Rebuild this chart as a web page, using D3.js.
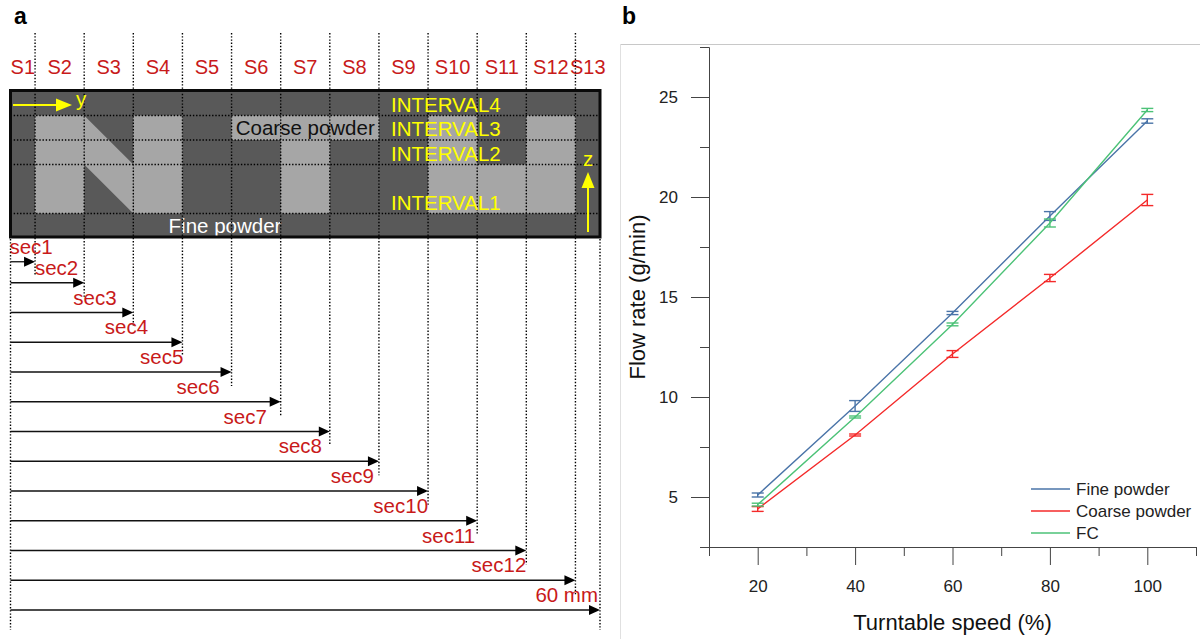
<!DOCTYPE html>
<html>
<head>
<meta charset="utf-8">
<script src="https://cdn.jsdelivr.net/npm/d3@7"></script>
<style>
  html, body { margin: 0; padding: 0; background: #fff; }
  svg { display: block; font-family: "Liberation Sans", Arial, sans-serif; }
</style>
</head>
<body>
<svg id="fig" width="1200" height="639"></svg>
<script>
// ---------- Panel a: section layout of the powder bed ----------
const sectionNames = ["S1","S2","S3","S4","S5","S6","S7","S8","S9","S10","S11","S12","S13"];
// section edges along y (mm)
const sectionEdges = [0, 2.5, 7.5, 12.5, 17.5, 22.5, 27.5, 32.5, 37.5, 42.5, 47.5, 52.5, 57.5, 60];
// cumulative measuring lengths
const secLabels = ["sec1","sec2","sec3","sec4","sec5","sec6","sec7","sec8","sec9","sec10","sec11","sec12","60 mm"];
const secEnds = [2.5, 7.5, 12.5, 17.5, 22.5, 27.5, 32.5, 37.5, 42.5, 47.5, 52.5, 57.5, 60];
// height intervals (z, in layer units)
const intervalNames = ["INTERVAL1","INTERVAL2","INTERVAL3","INTERVAL4"];
const intervalLower = [1, 3, 4, 5];
const zTop = 6;
// light (coarse) regions: z range at the left and right edge of a section
const coarseRegions = [
  { s: "S2",  zl: [1, 5], zr: [1, 5] },
  { s: "S3",  zl: [3, 5], zr: [1, 3] },
  { s: "S4",  zl: [1, 5], zr: [1, 5] },
  { s: "S6",  zl: [4, 5], zr: [4, 5] },
  { s: "S7",  zl: [1, 5], zr: [1, 5] },
  { s: "S8",  zl: [4, 5], zr: [4, 5] },
  { s: "S10", zl: [1, 5], zr: [1, 5] },
  { s: "S11", zl: [1, 3], zr: [1, 3] },
  { s: "S12", zl: [1, 5], zr: [1, 5] }
];

// ---------- Panel b: flow rate vs turntable speed ----------
const speeds = [20, 40, 60, 80, 100];
const seriesNames = ["Fine powder", "Coarse powder", "FC"];
const fineMean   = [5.10, 9.55, 14.20, 19.05, 23.80];
const fineErr    = [0.10, 0.27, 0.08, 0.22, 0.11];
const coarseMean = [4.40, 8.10, 12.15, 15.95, 19.85];
const coarseErr  = [0.12, 0.05, 0.17, 0.18, 0.28];
const fcMean     = [4.62, 9.00, 13.63, 18.70, 24.35];
const fcErr      = [0.07, 0.05, 0.07, 0.20, 0.08];
const xMajorTicks = [20, 40, 60, 80, 100];
const xMinorTicks = [10, 30, 50, 70, 90, 110];
const yMajorTicks = [5, 10, 15, 20, 25];
const yMinorTicks = [2.5, 7.5, 12.5, 17.5, 22.5, 27.5];

const svg = d3.select("#fig");
const RED = "#c81a1a";
const YELLOW = "#ffff00";
const FONT_A = 20.5;

// ===== Panel a =====
const gA = svg.append("g");
const mx = d3.scaleLinear().domain([0, 60]).range([10.5, 600]);
const zy = d3.scaleLinear().domain([0, zTop]).range([238, 91]);
const arrowY = d3.scalePoint().domain(d3.range(secLabels.length)).range([253, 610]);
const rowY = i => i === 0 ? arrowY(1) - 21 : arrowY(i);

gA.append("text").attr("x", 14).attr("y", 24)
  .attr("font-size", 23).attr("font-weight", "bold").text("a");

// section names
gA.selectAll("text.sname").data(sectionNames).join("text")
  .attr("class", "sname")
  .attr("x", (d, i) => mx((sectionEdges[i] + sectionEdges[i + 1]) / 2))
  .attr("y", 74).attr("text-anchor", "middle")
  .attr("font-size", 20).attr("fill", RED).text(d => d);

// bed background
gA.append("rect").attr("x", mx(0)).attr("y", zy(zTop))
  .attr("width", mx(60) - mx(0)).attr("height", zy(0) - zy(zTop))
  .attr("fill", "#595959");

// coarse regions
gA.selectAll("polygon.coarse").data(coarseRegions).join("polygon")
  .attr("class", "coarse")
  .attr("fill", "#a6a6a6")
  .attr("points", d => {
    const i = sectionNames.indexOf(d.s);
    const x0 = mx(sectionEdges[i]), x1 = mx(sectionEdges[i + 1]);
    return [[x0, zy(d.zl[1])], [x1, zy(d.zr[1])], [x1, zy(d.zr[0])], [x0, zy(d.zl[0])]]
      .map(p => p.join(",")).join(" ");
  });

gA.append("text").attr("x", mx(30)).attr("y", zy(4.5) + 7)
  .attr("text-anchor", "middle").attr("font-size", FONT_A).attr("fill", "#111")
  .text("Coarse powder");
gA.append("text").attr("x", 225).attr("y", zy(0.5) + 7.5)
  .attr("text-anchor", "middle").attr("font-size", FONT_A).attr("fill", "#fff")
  .text("Fine powder");

const dotted = sel => sel.attr("stroke", "#000").attr("stroke-width", 1.4)
  .attr("stroke-dasharray", "1.4,1.8").attr("fill", "none");

// interval boundaries
gA.selectAll("line.zb").data(intervalLower).join("line")
  .attr("class", "zb")
  .attr("x1", mx(0)).attr("x2", mx(60))
  .attr("y1", d => zy(d)).attr("y2", d => zy(d))
  .call(dotted);

// section boundaries down to each arrow
gA.selectAll("line.sb").data(sectionEdges.slice(1, -1)).join("line")
  .attr("class", "sb")
  .attr("x1", d => mx(d)).attr("x2", d => mx(d))
  .attr("y1", 33).attr("y2", (d, i) => rowY(i) + 14)
  .call(dotted);
// outer edges below the bed
gA.selectAll("line.eb").data([0, 60]).join("line")
  .attr("class", "eb")
  .attr("x1", d => mx(d)).attr("x2", d => mx(d))
  .attr("y1", 239).attr("y2", 630)
  .call(dotted);

// bed border
gA.append("rect").attr("x", mx(0)).attr("y", 90.5)
  .attr("width", mx(60) - mx(0)).attr("height", 146.5)
  .attr("fill", "none").attr("stroke", "#0a0a0a").attr("stroke-width", 3);

// y direction arrow
gA.append("line").attr("x1", 13).attr("x2", 58).attr("y1", 105).attr("y2", 105)
  .attr("stroke", YELLOW).attr("stroke-width", 2);
gA.append("path").attr("d", "M56,98.5 L72,105 L56,111.5 Z").attr("fill", YELLOW);
gA.append("text").attr("x", 76).attr("y", 106).attr("font-size", FONT_A)
  .attr("fill", YELLOW).text("y");

// z direction arrow
gA.append("line").attr("x1", 588).attr("x2", 588).attr("y1", 232).attr("y2", 186)
  .attr("stroke", YELLOW).attr("stroke-width", 2);
gA.append("path").attr("d", "M581.5,188 L588,172 L594.5,188 Z").attr("fill", YELLOW);
gA.append("text").attr("x", 588).attr("y", 166).attr("text-anchor", "middle")
  .attr("font-size", FONT_A).attr("fill", YELLOW).text("z");

// interval names
gA.selectAll("text.iname").data(intervalNames).join("text")
  .attr("class", "iname")
  .attr("x", mx(37.5) + 12)
  .attr("y", (d, i) => zy(intervalLower[i] + 0.45) + 7.3)
  .attr("font-size", FONT_A).attr("fill", YELLOW).text(d => d);

// measuring-length arrows
const labelEndMm = [4.3, 6.9, 10.8, 14.0, 17.6, 21.3, 26.1, 31.7, 37.0, 42.5, 47.3, 52.5, 59.8];
const rows = gA.selectAll("g.row").data(secLabels).join("g").attr("class", "row");
rows.append("line")
  .attr("x1", mx(0)).attr("x2", (d, i) => mx(secEnds[i]) - 8)
  .attr("y1", (d, i) => rowY(i)).attr("y2", (d, i) => rowY(i))
  .attr("stroke", "#111").attr("stroke-width", 1.3);
rows.append("path")
  .attr("d", (d, i) => {
    const tx = mx(secEnds[i]), ty = rowY(i);
    return `M${tx - 11},${ty - 5} L${tx},${ty} L${tx - 11},${ty + 5} Z`;
  })
  .attr("fill", "#000");
rows.append("text")
  .attr("x", (d, i) => mx(labelEndMm[i]))
  .attr("y", (d, i) => rowY(i) - 8)
  .attr("text-anchor", "end").attr("font-size", FONT_A).attr("fill", RED)
  .text(d => d);

// ===== Panel b =====
const gB = svg.append("g");
gB.append("line").attr("x1", 620).attr("x2", 1200).attr("y1", 44.5).attr("y2", 44.5)
  .attr("stroke", "#c8c8c8");
gB.append("line").attr("x1", 620.5).attr("x2", 620.5).attr("y1", 44).attr("y2", 639)
  .attr("stroke", "#e0e0e0");
gB.append("text").attr("x", 622).attr("y", 24)
  .attr("font-size", 23).attr("font-weight", "bold").text("b");

const x = d3.scaleLinear().domain([10, 110]).range([709, 1196]);
const y = d3.scaleLinear().domain([2.5, 27.5]).range([547, 47]);

const styleAxis = g => {
  g.selectAll("path.domain").attr("stroke", "#444");
  g.selectAll(".tick line").attr("stroke", "#444");
  g.selectAll(".tick text").attr("fill", "#222").attr("font-size", 17)
    .attr("font-family", "Liberation Sans, Arial, sans-serif");
};

gB.append("g").attr("transform", "translate(0,547)")
  .call(d3.axisBottom(x).tickValues(xMinorTicks).tickSize(9).tickSizeOuter(0).tickFormat(""))
  .call(styleAxis);
gB.append("g").attr("transform", "translate(0,547)")
  .call(d3.axisBottom(x).tickValues(xMajorTicks).tickSize(18).tickSizeOuter(0).tickPadding(15))
  .call(styleAxis);
gB.append("g").attr("transform", "translate(709,0)")
  .call(d3.axisLeft(y).tickValues(yMinorTicks).tickSize(9).tickSizeOuter(0).tickFormat(""))
  .call(styleAxis);
gB.append("g").attr("transform", "translate(709,0)")
  .call(d3.axisLeft(y).tickValues(yMajorTicks).tickSize(18).tickSizeOuter(0).tickPadding(13))
  .call(styleAxis);

gB.append("text").attr("x", x(60)).attr("y", 630).attr("text-anchor", "middle")
  .attr("font-size", 22).attr("fill", "#111").text("Turntable speed (%)");
gB.append("text").attr("transform", `translate(645,${y(15)}) rotate(-90)`)
  .attr("text-anchor", "middle").attr("font-size", 22).attr("fill", "#111")
  .text("Flow rate (g/min)");

const series = [
  { name: seriesNames[0], mean: fineMean, err: fineErr, color: "#4a74a8" },
  { name: seriesNames[1], mean: coarseMean, err: coarseErr, color: "#f42a2a" },
  { name: seriesNames[2], mean: fcMean, err: fcErr, color: "#4cc277" }
];
const line = d3.line().x((d, i) => x(speeds[i])).y(d => y(d));
const capW = 6;

series.forEach(s => {
  const g = gB.append("g");
  g.append("path").attr("d", line(s.mean)).attr("fill", "none")
    .attr("stroke", s.color).attr("stroke-width", 1.4);
  const eb = g.selectAll("g.eb").data(s.mean).join("g").attr("class", "eb")
    .attr("stroke", s.color).attr("stroke-width", 1.4);
  eb.append("line")
    .attr("x1", (d, i) => x(speeds[i])).attr("x2", (d, i) => x(speeds[i]))
    .attr("y1", (d, i) => y(d + s.err[i])).attr("y2", (d, i) => y(d - s.err[i]));
  [1, -1].forEach(sign => {
    eb.append("line")
      .attr("x1", (d, i) => x(speeds[i]) - capW).attr("x2", (d, i) => x(speeds[i]) + capW)
      .attr("y1", (d, i) => y(d + sign * s.err[i])).attr("y2", (d, i) => y(d + sign * s.err[i]));
  });
});

// legend
const leg = gB.selectAll("g.leg").data(series).join("g").attr("class", "leg")
  .attr("transform", (d, i) => `translate(1031,${489 + i * 22})`);
leg.append("line").attr("x1", 0).attr("x2", 39).attr("stroke", d => d.color).attr("stroke-width", 1.4);
leg.append("text").attr("x", 45).attr("y", 6).attr("font-size", 17).attr("fill", "#222")
  .text(d => d.name);
</script>
</body>
</html>
